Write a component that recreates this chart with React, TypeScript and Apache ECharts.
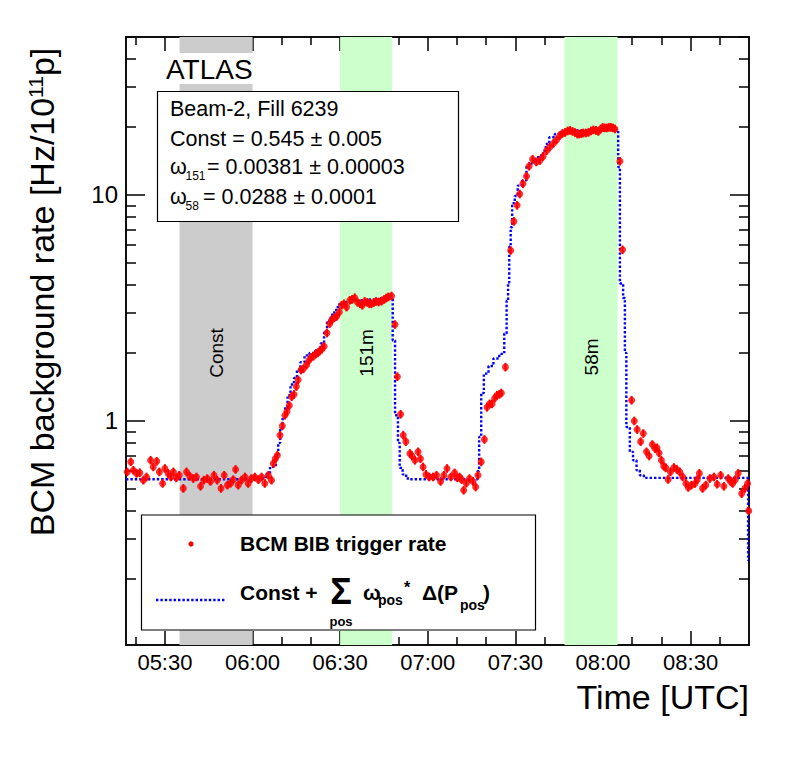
import React, { useEffect, useRef } from 'react';
import * as echarts from 'echarts';

// x values: minutes after 05:00 UTC
const X_MIN = 16.67;
const X_MAX = 230;
const Y_MIN = 0.102;
const Y_MAX = 50;

const timeTicksMajor = [30, 60, 90, 120, 150, 180, 210];
const timeTicksMinor = [20, 40, 50, 70, 80, 100, 110, 130, 140, 160, 170, 190, 200, 220];
const rateTicksMajor = [1, 10];
const rateTicksMinor = [0.2, 0.3, 0.4, 0.5, 0.6, 0.7, 0.8, 0.9, 2, 3, 4, 5, 6, 7, 8, 9, 20, 30, 40, 50];

const bandStart = [35, 90, 166.8];
const bandEnd = [60, 107.8, 185];
const bandLabel = ['Const', '151m', '58m'];
const bandLabelAt = [2.0, 2.0, 1.92];
const bandColor = ['#cccccc', '#ccffcc', '#ccffcc'];

const REL_ERR = 0.045;

const bcmBaselineEarly: [number, number][] = [
  [17.1, 0.595], [18.3, 0.659], [19.2, 0.605], [20.3, 0.586], [21.4, 0.59], [22.6, 0.547], [23.7, 0.565],
  [25.1, 0.67], [26.0, 0.626], [27.2, 0.663], [28.1, 0.595], [29.2, 0.529], [30.0, 0.616], [31.1, 0.586],
  [32.0, 0.565], [32.9, 0.595], [33.9, 0.56], [34.9, 0.575], [36.3, 0.503], [37.4, 0.595], [38.5, 0.57],
  [39.7, 0.556], [40.8, 0.565], [42.2, 0.514], [43.3, 0.547], [44.5, 0.556], [45.6, 0.54], [46.8, 0.575],
  [47.9, 0.547], [49.2, 0.503], [50.3, 0.575], [51.4, 0.52], [52.5, 0.53], [53.4, 0.55], [54.2, 0.61],
  [55.1, 0.52], [56.2, 0.547], [57.4, 0.565], [58.5, 0.529], [59.6, 0.556], [60.8, 0.565], [62.0, 0.55],
  [63.1, 0.565], [64.2, 0.529], [65.4, 0.575], [66.5, 0.547],
];
const bcmRise151: [number, number][] = [
  [67.1, 0.648], [67.8, 0.68], [68.5, 0.705], [69.4, 0.864], [70.2, 0.95], [71.1, 1.06], [71.8, 1.1],
  [72.6, 1.17], [73.4, 1.28], [74.2, 1.31], [75.0, 1.42], [75.6, 1.52], [76.6, 1.68], [77.4, 1.7],
  [78.5, 1.77], [79.3, 1.85], [80.0, 1.91], [80.8, 1.93], [81.7, 1.98], [82.3, 2.0], [83.0, 2.04],
  [83.8, 2.08], [84.5, 2.14], [85.5, 2.45], [86.4, 2.69], [87.2, 2.8], [88.1, 2.87], [88.8, 2.9], [89.7, 3.03],
];
const bcmPlateau151: [number, number][] = [
  [90.5, 3.25], [91.3, 3.3], [92.2, 3.19], [93.3, 3.42], [94.1, 3.45], [95.0, 3.51], [95.9, 3.35],
  [96.8, 3.3], [97.6, 3.25], [98.4, 3.38], [99.3, 3.35], [100.0, 3.3], [100.7, 3.3], [101.5, 3.34],
  [102.3, 3.38], [103.2, 3.36], [104.2, 3.39], [105.1, 3.45], [105.8, 3.5], [106.5, 3.54], [107.6, 3.57],
];
const bcmDecay151: [number, number][] = [
  [108.8, 2.67], [109.6, 1.57], [110.7, 1.07], [111.6, 0.865], [112.5, 0.81], [113.9, 0.718], [114.6, 0.7],
  [115.6, 0.67], [116.7, 0.73], [117.5, 0.68], [118.4, 0.626], [119.4, 0.58], [120.5, 0.565], [121.8, 0.565],
  [123.0, 0.575], [124.4, 0.54], [125.5, 0.575], [126.6, 0.616], [127.9, 0.565], [129.2, 0.589], [130.1, 0.56],
  [130.9, 0.565], [131.6, 0.55], [132.3, 0.494], [133.2, 0.53], [134.3, 0.556], [135.5, 0.54], [136.4, 0.51],
];
const bcmRise58: [number, number][] = [
  [137.2, 0.575], [138.3, 0.659], [139.4, 0.828], [140.3, 1.15], [141.2, 1.19], [142.0, 1.19], [142.9, 1.26],
  [143.7, 1.3], [144.5, 1.31], [145.2, 1.33], [146.6, 1.73], [148.4, 5.68], [149.5, 7.64], [150.6, 9.0],
  [151.5, 10.1], [152.6, 11.2], [153.8, 12.1], [154.7, 13.4], [155.9, 14.4], [157.2, 14.0], [158.4, 14.2],
  [159.5, 14.8], [160.7, 15.7], [161.8, 16.3], [163.0, 16.9], [164.1, 17.5], [165.2, 18.3], [166.1, 18.7],
];
const bcmPlateau58: [number, number][] = [
  [167.0, 18.9], [167.9, 19.2], [168.7, 19.3], [169.6, 19.1], [170.4, 18.9], [171.2, 18.6], [171.9, 18.6],
  [172.6, 18.7], [173.2, 18.8], [174.1, 18.8], [175.0, 18.9], [175.9, 19.2], [176.7, 19.4], [177.6, 19.3],
  [178.4, 19.1], [179.2, 19.6], [179.9, 19.9], [180.6, 19.8], [181.3, 19.8], [182.0, 19.9], [182.7, 19.9],
  [183.4, 19.8], [184.1, 19.6],
];
const bcmDecay58: [number, number][] = [
  [185.8, 14.1], [186.7, 5.72], [189.8, 1.235], [190.7, 1.0], [191.7, 0.916], [192.9, 0.81], [193.8, 0.88],
  [194.9, 0.73], [195.8, 0.7], [196.9, 0.786], [197.8, 0.755], [198.5, 0.76], [199.2, 0.722], [200.0, 0.67],
  [200.8, 0.631], [201.5, 0.62], [202.3, 0.551], [203.1, 0.595], [204.3, 0.622], [205.3, 0.61], [206.3, 0.595],
  [207.3, 0.565], [208.4, 0.529], [209.2, 0.508], [210.3, 0.52], [211.5, 0.529], [212.3, 0.55], [213.0, 0.586],
  [214.1, 0.503], [215.2, 0.52], [216.6, 0.556], [218.0, 0.565], [219.1, 0.525], [220.3, 0.575], [221.4, 0.514],
  [222.9, 0.556], [223.7, 0.54], [224.4, 0.529], [225.3, 0.55], [226.3, 0.586], [227.5, 0.477], [228.6, 0.503],
  [229.5, 0.529], [229.9, 0.4],
];

// model (step function): [start of level, level]
const modelSteps: [number, number][] = [
  [16.67, 0.552], [63.5, 0.565], [65.0, 0.59], [66.0, 0.626], [68.0, 0.7], [68.8, 0.8], [69.5, 0.92],
  [70.3, 1.04], [71.2, 1.15], [72.0, 1.3], [73.0, 1.45], [74.2, 1.55], [75.2, 1.68], [76.4, 1.82],
  [77.8, 1.95], [79.5, 2.0], [81.5, 2.05], [83.3, 2.2], [84.5, 2.5], [85.5, 2.78], [86.8, 2.95],
  [88.0, 3.1], [89.2, 3.28], [91.0, 3.35], [94.0, 3.42], [100.0, 3.45], [104.0, 3.5], [108.0, 2.27],
  [108.8, 1.06], [109.8, 0.8], [110.4, 0.62], [111.4, 0.58], [112.6, 0.556], [114.0, 0.552],
  [137.0, 0.6], [137.6, 0.85], [138.3, 1.33], [139.2, 1.62], [140.8, 1.75], [142.5, 1.89], [144.5, 1.98],
  [146.2, 2.44], [147.0, 3.4], [147.5, 4.1], [147.9, 5.9], [148.4, 7.2], [148.9, 9.2], [149.8, 9.9],
  [150.8, 11.0], [152.3, 11.6], [153.8, 13.5], [155.5, 14.0], [157.0, 14.7], [158.8, 15.2], [159.5, 15.7],
  [160.4, 16.8], [161.6, 18.0], [163.5, 18.6], [165.5, 19.0], [167.0, 19.3], [175.0, 19.2], [180.0, 19.4],
  [185.2, 13.3], [185.8, 4.06], [186.9, 3.5], [187.5, 2.0], [188.0, 0.94], [189.2, 0.73], [190.3, 0.67],
  [191.5, 0.605], [192.6, 0.575], [194.0, 0.56], [229.7, 0.242], [230.0, 0.242],
];

const bcmAll = [
  ...bcmBaselineEarly, ...bcmRise151, ...bcmPlateau151, ...bcmDecay151,
  ...bcmRise58, ...bcmPlateau58, ...bcmDecay58,
];

const FONT = '"Liberation Sans", Arial, Helvetica, sans-serif';

function fmtTime(v: number): string {
  const h = Math.floor(v / 60) + 5;
  const m = Math.round(v % 60);
  return (h < 10 ? '0' : '') + h + ':' + (m < 10 ? '0' : '') + m;
}

function txt(text: string, x: number, y: number, size: number, opts: any = {}) {
  const align = opts.align || 'left';
  return {
    type: 'text',
    x,
    y,
    z: 100,
    rotation: opts.rotation || 0,
    silent: true,
    style: {
      text,
      fill: opts.fill || '#000',
      font: `${opts.bold ? 'bold ' : ''}${size}px ${opts.family || FONT}`,
      align,
      textAlign: align,
      verticalAlign: 'middle',
      textVerticalAlign: 'middle',
      rich: opts.rich,
    },
  };
}

export default function App() {
  const ref = useRef<HTMLDivElement>(null);

  useEffect(() => {
    document.body.style.margin = '0';
    const chart = echarts.init(ref.current!, undefined, { renderer: 'svg', width: 789, height: 769 });

    const axisLine = { show: true, onZero: false, lineStyle: { color: '#000', width: 1.5 } };
    const tickStyle = { color: '#000', width: 1.5 };
    const xBase: any = { type: 'value', min: X_MIN, max: X_MAX, splitLine: { show: false }, axisLine };
    const yBase: any = { type: 'log', logBase: 10, min: Y_MIN, max: Y_MAX, splitLine: { show: false }, axisLine };

    const option: any = {
      animation: false,
      backgroundColor: '#fff',
      grid: { left: 126, right: 40, top: 37, bottom: 124, outerBoundsMode: 'none', containLabel: false },
      xAxis: [
        {
          ...xBase, position: 'bottom',
          axisTick: { show: true, inside: true, length: 14, customValues: timeTicksMajor, lineStyle: tickStyle },
          axisLabel: { show: true, customValues: timeTicksMajor, formatter: fmtTime, fontSize: 22, fontFamily: FONT, color: '#000', margin: 6 },
        },
        {
          ...xBase, position: 'bottom',
          axisTick: { show: true, inside: true, length: 8, customValues: timeTicksMinor, lineStyle: tickStyle },
          axisLabel: { show: false },
        },
        {
          ...xBase, position: 'top',
          axisTick: { show: true, inside: true, length: 14, customValues: timeTicksMajor, lineStyle: tickStyle },
          axisLabel: { show: false },
        },
        {
          ...xBase, position: 'top',
          axisTick: { show: true, inside: true, length: 8, customValues: timeTicksMinor, lineStyle: tickStyle },
          axisLabel: { show: false },
        },
      ],
      yAxis: [
        {
          ...yBase, position: 'left',
          axisTick: { show: true, inside: true, length: 19, customValues: rateTicksMajor, lineStyle: tickStyle },
          axisLabel: { show: true, customValues: rateTicksMajor, formatter: (v: number) => String(v), fontSize: 24, fontFamily: FONT, color: '#000', margin: 8 },
        },
        {
          ...yBase, position: 'left',
          axisTick: { show: true, inside: true, length: 10, customValues: rateTicksMinor, lineStyle: tickStyle },
          axisLabel: { show: false },
        },
        {
          ...yBase, position: 'right',
          axisTick: { show: true, inside: true, length: 19, customValues: rateTicksMajor, lineStyle: tickStyle },
          axisLabel: { show: false },
        },
        {
          ...yBase, position: 'right',
          axisTick: { show: true, inside: true, length: 10, customValues: rateTicksMinor, lineStyle: tickStyle },
          axisLabel: { show: false },
        },
      ],
      series: [
        {
          type: 'custom',
          name: 'bands',
          xAxisIndex: 0,
          yAxisIndex: 0,
          z: 1,
          silent: true,
          data: bandStart.map((s, i) => [s, bandEnd[i], bandLabelAt[i]]),
          encode: { x: [0, 1], y: 2 },
          renderItem: (params: any, api: any) => {
            const i = params.dataIndex;
            const x0 = api.value(0);
            const x1 = api.value(1);
            const p0 = api.coord([x0, Y_MAX]);
            const p1 = api.coord([x1, Y_MIN]);
            const pc = api.coord([(x0 + x1) / 2, api.value(2)]);
            return {
              type: 'group',
              children: [
                {
                  type: 'rect',
                  shape: { x: p0[0], y: p0[1], width: p1[0] - p0[0], height: p1[1] - p0[1] },
                  style: { fill: bandColor[i] },
                },
                {
                  type: 'text',
                  x: pc[0],
                  y: pc[1],
                  rotation: Math.PI / 2,
                  style: {
                    text: bandLabel[i], fill: '#000', font: `19px ${FONT}`,
                    align: 'center', textAlign: 'center', verticalAlign: 'middle', textVerticalAlign: 'middle',
                  },
                },
              ],
            };
          },
        },
        {
          type: 'line',
          name: 'model',
          xAxisIndex: 0,
          yAxisIndex: 0,
          z: 3,
          step: 'end',
          showSymbol: false,
          symbol: 'none',
          data: modelSteps,
          lineStyle: { color: '#0000ff', width: 2.4, type: [2.4, 2] },
          silent: true,
        },
        {
          type: 'custom',
          name: 'errors',
          xAxisIndex: 0,
          yAxisIndex: 0,
          z: 4,
          silent: true,
          clip: true,
          data: bcmAll,
          renderItem: (params: any, api: any) => {
            const x = api.value(0);
            const v = api.value(1);
            const a = api.coord([x, v * (1 + REL_ERR)]);
            const b = api.coord([x, v / (1 + REL_ERR)]);
            return {
              type: 'line',
              shape: { x1: a[0], y1: a[1], x2: b[0], y2: b[1] },
              style: { stroke: '#ff0000', lineWidth: 2 },
            };
          },
        },
        {
          type: 'scatter',
          name: 'BCM BIB trigger rate',
          xAxisIndex: 0,
          yAxisIndex: 0,
          z: 5,
          symbol: 'circle',
          symbolSize: 7,
          data: bcmAll,
          itemStyle: { color: '#ff0000' },
          silent: true,
        },
      ],
      graphic: {
        elements: [
          // ATLAS label with white background
          { type: 'rect', z: 99, silent: true, shape: { x: 160, y: 53, width: 104, height: 31 }, style: { fill: '#fff' } },
          txt('ATLAS', 166, 69, 28),
          // stats box
          { type: 'rect', z: 99, silent: true, shape: { x: 157.5, y: 91.5, width: 301, height: 130 }, style: { fill: '#fff', stroke: '#000', lineWidth: 1.2 } },
          txt('Beam-2, Fill 6239', 170, 109, 21.5),
          txt('Const = 0.545 \u00b1 0.005', 170, 138.5, 21.5),
          txt('\u03c9', 170, 166.5, 21.5),
          txt('151', 185.5, 176, 12),
          txt('= 0.00381 \u00b1 0.00003', 207, 166.5, 21.5),
          txt('\u03c9', 170, 196.5, 21.5),
          txt('58', 185.5, 206, 12),
          txt('= 0.0288 \u00b1 0.0001', 203, 196.5, 21.5),
          // legend box
          { type: 'rect', z: 99, silent: true, shape: { x: 141.5, y: 515, width: 394, height: 115 }, style: { fill: '#fff', stroke: '#000', lineWidth: 1.2 } },
          { type: 'circle', z: 100, silent: true, shape: { cx: 191, cy: 544, r: 2.6 }, style: { fill: '#ff0000' } },
          txt('BCM BIB trigger rate', 240, 543, 21, { bold: true }),
          { type: 'line', z: 100, silent: true, shape: { x1: 156, y1: 600, x2: 226, y2: 600 }, style: { stroke: '#0000ff', lineWidth: 2.4, lineDash: [2.4, 2] } },
          txt('Const +', 240, 592, 21, { bold: true }),
          txt('\u03a3', 341, 591, 36, { bold: true, align: 'center' }),
          txt('pos', 341, 621, 13, { bold: true, align: 'center' }),
          txt('\u03c9', 363, 592, 21, { bold: true }),
          txt('pos', 378, 600, 14, { bold: true }),
          txt('*', 404, 587, 16, { bold: true }),
          txt('\u0394(P', 422, 592, 21, { bold: true }),
          txt('pos', 460, 605, 14, { bold: true }),
          txt(')', 483, 592, 21, { bold: true }),
          // axis titles
          txt('Time [UTC]', 749, 697, 34, { align: 'right' }),
          txt('{a|BCM background rate [Hz/10}{s|11}{a|p]}', 42, 292, 34, {
            align: 'center',
            rotation: Math.PI / 2,
            rich: {
              a: { fontSize: 34, fontFamily: FONT, fill: '#000' },
              s: { fontSize: 21, fontFamily: FONT, fill: '#000', verticalAlign: 'top', textVerticalAlign: 'top' },
            },
          }),
        ],
      },
    };

    chart.setOption(option);
    return () => chart.dispose();
  }, []);

  return (
    <div
      ref={ref}
      style={{ position: 'absolute', left: 0, top: 0, width: 789, height: 769, background: '#fff' }}
    />
  );
}
